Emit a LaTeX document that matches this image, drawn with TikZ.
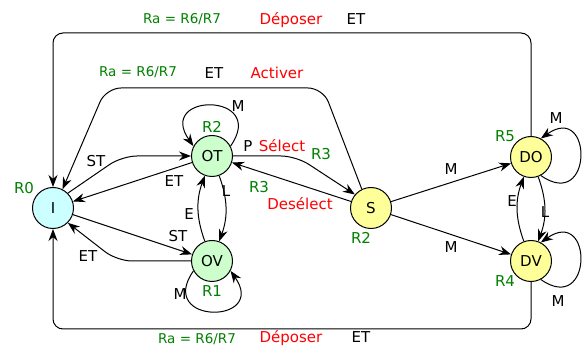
\documentclass[tikz,border=0pt]{standalone}
\usepackage{fontspec}
\setmainfont{DejaVu Sans}
\usetikzlibrary{arrows.meta}
\definecolor{regcol}{RGB}{0,128,0}
\definecolor{ifill}{RGB}{204,255,255}
\definecolor{ofill}{RGB}{204,255,204}
\definecolor{dfill}{RGB}{255,255,153}

\begin{document}
\begin{tikzpicture}[x=1pt, y=-1pt, line width=1pt, font=\fontsize{15}{18}\selectfont,
    >={Stealth[length=12pt, width=9pt]},
    state/.style={circle, draw, minimum size=41pt, inner sep=0pt},
    lbl/.style={anchor=base, inner sep=0pt},
    reg/.style={lbl, text=regcol},
    act/.style={lbl, text=red},
    ra/.style={reg, font=\fontsize{13.5}{16}\selectfont}]
    \useasboundingbox (0,0) rectangle (582,347);

    \node (I)  [state, fill=ifill] at (53, 208)  {I};
    \node (OT) [state, fill=ofill] at (212, 156) {OT};
    \node (OV) [state, fill=ofill] at (212, 261) {OV};
    \node (S)  [state, fill=dfill] at (371, 208) {S};
    \node (DO) [state, fill=dfill] at (531, 157) {DO};
    \node (DV) [state, fill=dfill] at (531, 261) {DV};

    \coordinate (top)  at (53, 33);
    \coordinate (bot)  at (53, 329);
    \coordinate (act1) at (323, 88);
    \coordinate (act2) at (106, 88);
    \coordinate (stc)  at (122, 156);
    \coordinate (etc)  at (117, 261);
    \coordinate (selc) at (296, 156);

    \draw[->, rounded corners=10pt] (DO.north) |- (top) -- (I.north);
    \draw[->, rounded corners=10pt] (DV.south) |- (bot) -- (I.south);
    \draw[->, rounded corners=15pt] (S.116) -- (act1) -- (act2) -- (I.63);
    \draw[->, rounded corners=15pt] (I.45) -- (stc) -- (OT.west);
    \draw[->, rounded corners=15pt] (OV.west) -- (etc) -- (I.-45);
    \draw[->, rounded corners=15pt] (OT.east) -- (selc) -- (S.140);
    \draw[->] (OT) -- (I);
    \draw[->] (I) -- (OV);
    \draw[->] (S) -- (OT);
    \draw[->] (S) -- (DO);
    \draw[->] (S) -- (DV);
    \draw[->] (OV.110) to[bend left=20] (OT.250);
    \draw[->] (OT.290) to[bend left=20] (OV.70);
    \draw[->] (DV.110) to[bend left=20] (DO.250);
    \draw[->] (DO.290) to[bend left=20] (DV.70);
    \draw[->] (OT.28)  to[out=55, in=125, distance=66pt] (OT.152);
    \draw[->] (OV.208) to[out=235, in=305, distance=66pt] (OV.332);
    \draw[->] (DO.-62) to[out=-35, in=35, distance=64pt] (DO.62);
    \draw[->] (DV.-62) to[out=-35, in=35, distance=64pt] (DV.62);

    \node (raTop)  [ra]  at (182, 24)  {Ra = R6/R7};
    \node (depTop) [act] at (291, 25)  {Déposer};
    \node (etTop)  [lbl] at (356, 25)  {ET};
    \node (raAct)  [ra]  at (138, 77)  {Ra = R6/R7};
    \node (etAct)  [lbl] at (214, 79)  {ET};
    \node (act)    [act] at (277, 79)  {Activer};
    \node (raBot)  [ra]  at (197, 344) {Ra = R6/R7};
    \node (depBot) [act] at (291, 343) {Déposer};
    \node (etBot)  [lbl] at (361, 343) {ET};

    \node (r0)  [reg] at (24, 194)  {R0};
    \node (r2a) [reg] at (212, 133) {R2};
    \node (r1)  [reg] at (212, 297) {R1};
    \node (r2b) [reg] at (361, 244) {R2};
    \node (r5)  [reg] at (505, 142) {R5};
    \node (r4)  [reg] at (505, 287) {R4};
    \node (r3a) [reg] at (321, 160) {R3};
    \node (r3b) [reg] at (259, 193) {R3};

    \node (p)     [lbl] at (248, 152) {P};
    \node (sel)   [act] at (282, 152) {Sélect};
    \node (desel) [act] at (300, 210) {Desélect};

    \node (st1) [lbl] at (96, 167)  {ST};
    \node (et1) [lbl] at (174, 187) {ET};
    \node (st2) [lbl] at (178, 242) {ST};
    \node (et2) [lbl] at (88, 262)  {ET};
    \node (e1)  [lbl] at (189, 220) {E};
    \node (l1)  [lbl] at (226, 197) {L};
    \node (e2)  [lbl] at (512, 207) {E};
    \node (l2)  [lbl] at (545, 218) {L};
    \node (mOT) [lbl] at (238, 112) {M};
    \node (mOV) [lbl] at (180, 300) {M};
    \node (mDO) [lbl] at (451, 175) {M};
    \node (mDV) [lbl] at (451, 253) {M};
    \node (mLo) [lbl] at (556, 124) {M};
    \node (mLv) [lbl] at (558, 307) {M};
\end{tikzpicture}
\end{document}
